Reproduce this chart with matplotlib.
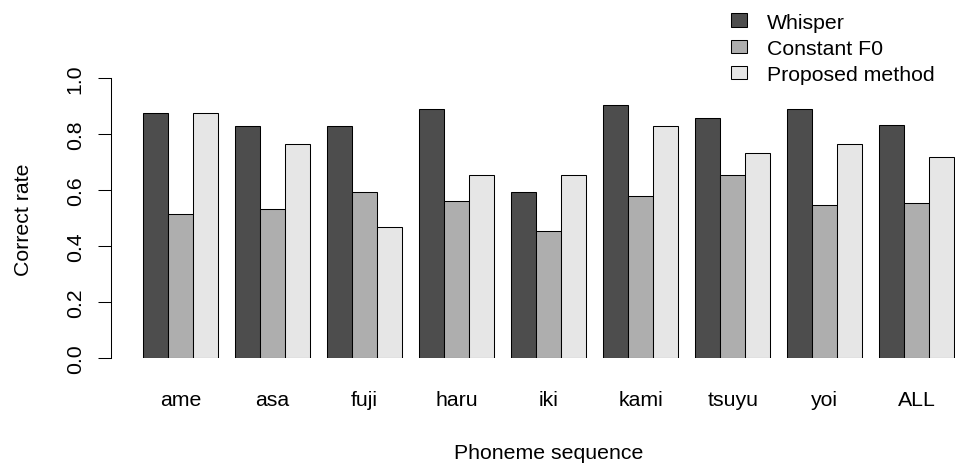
import matplotlib
matplotlib.use('Agg')
import matplotlib.pyplot as plt
from matplotlib.patches import Rectangle
import numpy as np

plt.rcParams['font.family'] = ['Liberation Sans', 'DejaVu Sans']

words = ['ame', 'asa', 'fuji', 'haru', 'iki', 'kami', 'tsuyu', 'yoi', 'ALL']
whisper = [0.875, 0.828, 0.828, 0.891, 0.594, 0.906, 0.859, 0.891, 0.834]
const_f0 = [0.516, 0.531, 0.594, 0.563, 0.453, 0.578, 0.656, 0.547, 0.555]
proposed = [0.875, 0.766, 0.469, 0.656, 0.656, 0.828, 0.734, 0.766, 0.719]
series = ['Whisper', 'Constant F0', 'Proposed method']
cols = ['#4D4D4D', '#AEAEAE', '#E6E6E6']

W, H = 955, 464
fs = 15.3

def fx(px):
    return px / W

def fy(py):
    return 1 - py / H

fig = plt.figure(figsize=(W / 100, H / 100), dpi=100)

# R style barplot geometry (beside=TRUE, space=c(0,0.68))
space = 0.68
ngrp = len(words)
starts = space + np.arange(ngrp) * (3 + space)
lo, hi = space, ngrp * (3 + space)
pad = 0.04 * (hi - lo)
xlim = (lo - pad, hi + pad)
unit = 25.0  # px per bar
ax_left = 110.7
ax_w = (xlim[1] - xlim[0]) * unit
ax_bot = 359.0
ax_h = 279.7
ax = fig.add_axes([fx(ax_left), fy(ax_bot), ax_w / W, ax_h / H])

for k, vals in enumerate([whisper, const_f0, proposed]):
    ax.bar(starts + k, vals, width=1.0, align='edge', color=cols[k],
           edgecolor='black', linewidth=0.75)

ax.set_xlim(*xlim)
ax.set_ylim(0, 1)
for s in ['top', 'right', 'bottom']:
    ax.spines[s].set_visible(False)
ax.spines['left'].set_bounds(0, 1)
ax.spines['left'].set_linewidth(0.75)

ax.set_yticks(np.arange(0, 1.01, 0.2))
ax.set_yticklabels(['%.1f' % v for v in np.arange(0, 1.01, 0.2)])
ax.tick_params(axis='y', length=9.6, width=0.75, pad=9, labelsize=fs)
plt.setp(ax.get_yticklabels(), rotation=90, va='center')

ax.set_xticks(starts + 1.5)
ax.set_xticklabels(words)
ax.tick_params(axis='x', length=0, pad=23, labelsize=fs)

fig.text(fx(548.7), fy(459), 'Phoneme sequence', ha='center', va='baseline', fontsize=fs)
fig.text(fx(29.3), fy(220), 'Correct rate', ha='center', va='baseline',
         rotation=90, rotation_mode='anchor', fontsize=fs)

# legend
rows = [21.0, 47.5, 73.5]
for k, name in enumerate(series):
    fig.add_artist(Rectangle((fx(731), fy(rows[k] + 6.8)), 15.7 / W, 13.6 / H,
                             transform=fig.transFigure, facecolor=cols[k],
                             edgecolor='black', linewidth=0.75))
    fig.text(fx(767), fy(rows[k] + 7.6), name, ha='left', va='baseline', fontsize=fs)

fig.savefig('out.png', dpi=100)
